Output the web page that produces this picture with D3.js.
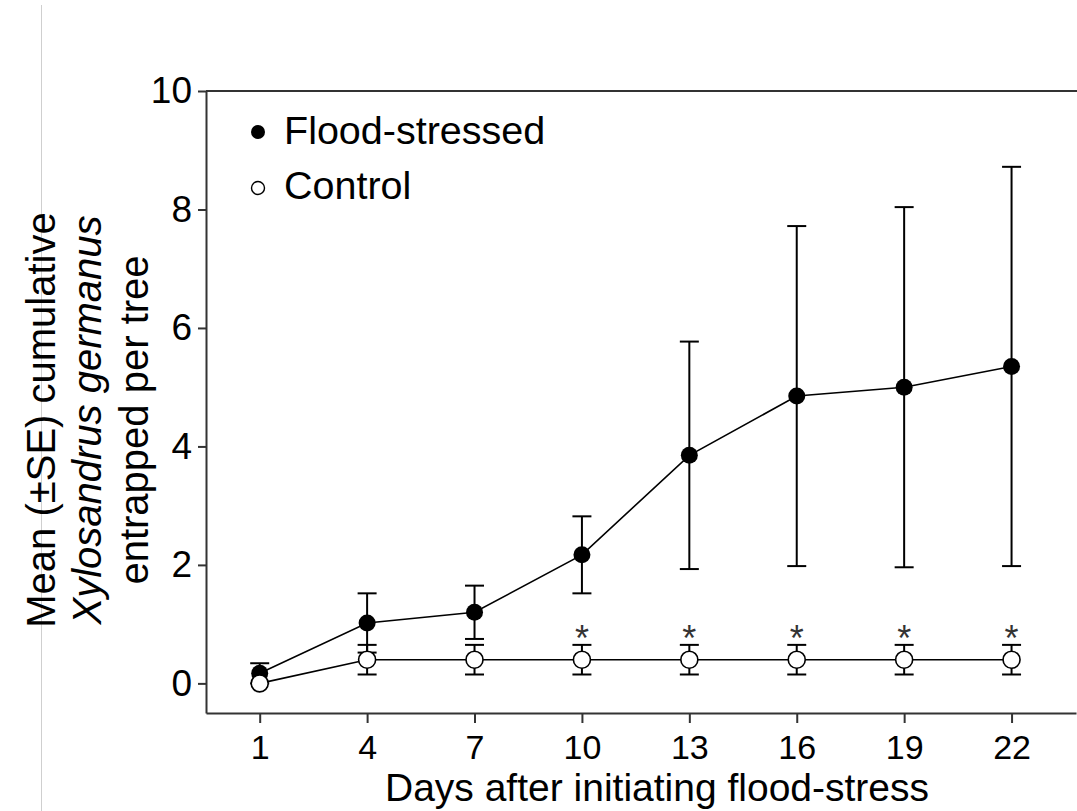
<!DOCTYPE html>
<html>
<head>
<meta charset="utf-8">
<script src="https://cdn.jsdelivr.net/npm/d3@7"></script>
<style>
  html, body { margin: 0; padding: 0; background: #fff; }
  svg { display: block; font-family: "Liberation Sans", Arial, sans-serif; }
</style>
</head>
<body>
<svg id="chart" width="1077" height="811"></svg>
<script>
// Sampling days
const days = [1, 4, 7, 10, 13, 16, 19, 22];

// Mean cumulative beetles per tree and standard errors
const floodMean = [0.17, 1.02, 1.20, 2.17, 3.85, 4.85, 5.00, 5.35];
const floodSE   = [0.17, 0.50, 0.45, 0.65, 1.92, 2.87, 3.04, 3.37];
const controlMean = [0.00, 0.40, 0.40, 0.40, 0.40, 0.40, 0.40, 0.40];
const controlSE   = [0.00, 0.25, 0.25, 0.25, 0.25, 0.25, 0.25, 0.25];

// Days where the two treatments differ significantly
const significant = [false, false, false, true, true, true, true, true];

const yTicks = [0, 2, 4, 6, 8, 10];
const seriesNames = ["Flood-stressed", "Control"];

const svg = d3.select("#chart");
const ink = "#000";
const axisInk = "#333";

const x = d3.scaleLinear().domain([-0.5, 23.8]).range([206, 1076]);
const y = d3.scaleLinear().domain([-0.5, 10]).range([713, 91]);

// faint page guide on the left
svg.append("line")
  .attr("x1", 41.5).attr("x2", 41.5).attr("y1", 5).attr("y2", 811)
  .attr("stroke", "#cfcfcf").attr("stroke-width", 1);

// Axes
const yAxis = svg.append("g")
  .attr("transform", `translate(${x(-0.5)},0)`)
  .call(d3.axisLeft(y).tickValues(yTicks).tickSize(8).tickSizeOuter(0).tickPadding(6));
const xAxis = svg.append("g")
  .attr("transform", `translate(0,${y(-0.5)})`)
  .call(d3.axisBottom(x).tickValues(days).tickSize(10).tickSizeOuter(0).tickPadding(12));

[yAxis, xAxis].forEach(g => {
  g.select(".domain").attr("stroke", axisInk).attr("stroke-width", 2);
  g.selectAll(".tick line").attr("stroke", axisInk).attr("stroke-width", 2);
  g.selectAll(".tick text").attr("fill", ink)
    .style("font-family", "'Liberation Sans', Arial, sans-serif");
});
yAxis.selectAll(".tick text").style("font-size", "37px");
xAxis.selectAll(".tick text").style("font-size", "34px");

// top frame line
svg.append("line")
  .attr("x1", x(-0.5)).attr("x2", 1077)
  .attr("y1", y(10)).attr("y2", y(10))
  .attr("stroke", axisInk).attr("stroke-width", 2);

// Axis titles
svg.append("text")
  .attr("x", 657).attr("y", 801)
  .attr("text-anchor", "middle")
  .style("font-size", "39px").attr("fill", ink)
  .text("Days after initiating flood-stress");

const yTitle = svg.append("g").attr("transform", "translate(0,420) rotate(-90)");
yTitle.append("text").attr("x", 0).attr("y", 55)
  .attr("text-anchor", "middle").style("font-size", "40px").attr("fill", ink)
  .text("Mean (±SE) cumulative");
yTitle.append("text").attr("x", 0).attr("y", 101)
  .attr("text-anchor", "middle").style("font-size", "40px").style("font-style", "italic").attr("fill", ink)
  .text("Xylosandrus germanus");
yTitle.append("text").attr("x", 0).attr("y", 148)
  .attr("text-anchor", "middle").style("font-size", "40px").attr("fill", ink)
  .text("entrapped per tree");

const line = d3.line().x(d => x(d[0])).y(d => y(d[1]));
const capHalf = 9.5;
const pointR = 8.5;

function drawSeries(means, ses, filled) {
  const g = svg.append("g");
  const data = days.map((d, i) => ({ day: d, m: means[i], se: ses[i] }));
  const bars = g.selectAll(".eb").data(data.filter(d => d.se > 0)).join("g");
  bars.append("line")
    .attr("x1", d => x(d.day)).attr("x2", d => x(d.day))
    .attr("y1", d => y(d.m - d.se)).attr("y2", d => y(d.m + d.se))
    .attr("stroke", ink).attr("stroke-width", 2);
  bars.append("line")
    .attr("x1", d => x(d.day) - capHalf).attr("x2", d => x(d.day) + capHalf)
    .attr("y1", d => y(d.m + d.se)).attr("y2", d => y(d.m + d.se))
    .attr("stroke", ink).attr("stroke-width", 2);
  bars.append("line")
    .attr("x1", d => x(d.day) - capHalf).attr("x2", d => x(d.day) + capHalf)
    .attr("y1", d => y(d.m - d.se)).attr("y2", d => y(d.m - d.se))
    .attr("stroke", ink).attr("stroke-width", 2);
  g.append("path")
    .datum(data.map(d => [d.day, d.m]))
    .attr("d", line).attr("fill", "none")
    .attr("stroke", ink).attr("stroke-width", 1.6);
  g.selectAll("circle").data(data).join("circle")
    .attr("cx", d => x(d.day)).attr("cy", d => y(d.m))
    .attr("r", pointR)
    .attr("fill", filled ? ink : "#fff")
    .attr("stroke", ink).attr("stroke-width", filled ? 0 : 1.6);
}

drawSeries(floodMean, floodSE, true);
drawSeries(controlMean, controlSE, false);

// significance markers above the control error bars
svg.append("g").selectAll("text")
  .data(days.map((d, i) => ({ day: d, top: controlMean[i] + controlSE[i], sig: significant[i] })).filter(d => d.sig))
  .join("text")
  .attr("x", d => x(d.day)).attr("y", d => y(d.top) + 6)
  .attr("text-anchor", "middle")
  .style("font-size", "36px").attr("fill", "#333")
  .text("*");

// Legend
const legend = svg.append("g");
const legendRows = [{ name: seriesNames[0], filled: true, cy: 132, ty: 144 },
                    { name: seriesNames[1], filled: false, cy: 188, ty: 199 }];
legendRows.forEach(r => {
  legend.append("circle")
    .attr("cx", 258).attr("cy", r.cy).attr("r", r.filled ? 7 : 6.5)
    .attr("fill", r.filled ? ink : "#fff")
    .attr("stroke", ink).attr("stroke-width", r.filled ? 0 : 1.4);
  legend.append("text")
    .attr("x", 284).attr("y", r.ty)
    .style("font-size", "39.5px").attr("fill", ink)
    .text(r.name);
});
</script>
</body>
</html>
